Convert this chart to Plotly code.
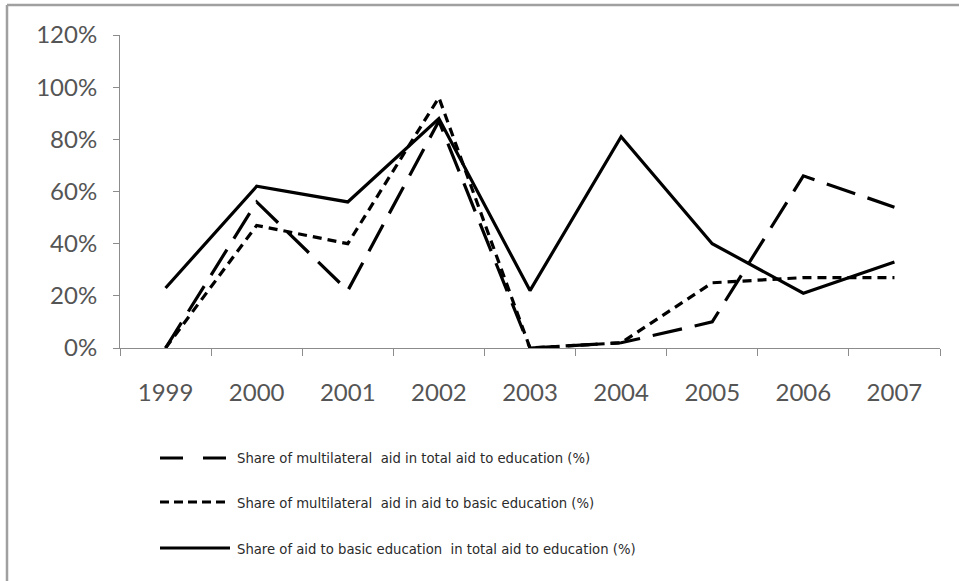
import plotly.graph_objects as go

years = ["1999", "2000", "2001", "2002", "2003", "2004", "2005", "2006", "2007"]
multi_total = [0.00, 0.56, 0.22, 0.87, 0.00, 0.02, 0.10, 0.66, 0.54]
multi_basic = [0.00, 0.47, 0.40, 0.96, 0.00, 0.02, 0.25, 0.27, 0.27]
basic_share = [0.23, 0.62, 0.56, 0.88, 0.22, 0.81, 0.40, 0.21, 0.33]
series_names = [
    "Share of multilateral  aid in total aid to education (%)",
    "Share of multilateral  aid in aid to basic education (%)",
    "Share of aid to basic education  in total aid to education (%)",
]
y_ticks = [0, 0.2, 0.4, 0.6, 0.8, 1.0, 1.2]

W, H = 959, 581
L, R, T, B = 120, 19, 35, 233
pw, ph = W - L - R, H - T - B

def px_x(x):
    return (x - L) / pw

def px_y(y):
    return (H - B - y) / ph

dashes = ["30px,13px", "9px,6px", "solid"]
legend_dashes = ["23px,20px", "9px,5px", "solid"]

fig = go.Figure()
for vals, name, d in zip([multi_total, multi_basic, basic_share], series_names, dashes):
    fig.add_trace(go.Scatter(x=years, y=vals, mode="lines", name=name,
                             line=dict(color="black", width=3.2, dash=d),
                             showlegend=False))

shapes = []
annotations = []
rows_y = [458, 502, 548]
for name, d, ry in zip(series_names, legend_dashes, rows_y):
    shapes.append(dict(type="line", xref="paper", yref="paper",
                       x0=px_x(160), x1=px_x(230), y0=px_y(ry), y1=px_y(ry),
                       line=dict(color="black", width=3.2, dash=d)))
    annotations.append(dict(xref="paper", yref="paper", x=px_x(235), y=px_y(ry),
                            xanchor="left", yanchor="middle", showarrow=False,
                            text=name,
                            font=dict(family="Liberation Sans Narrow, DejaVu Sans Condensed", size=14.7, color="#2a2a2a")))
# outer frame (left and top edges)
shapes.append(dict(type="line", xref="paper", yref="paper",
                   x0=px_x(7), x1=px_x(7), y0=px_y(5), y1=px_y(581),
                   line=dict(color="#a0a0a0", width=2.5)))
shapes.append(dict(type="line", xref="paper", yref="paper",
                   x0=px_x(7), x1=px_x(959), y0=px_y(5), y1=px_y(5),
                   line=dict(color="#a0a0a0", width=2.5)))

fig.update_layout(
    width=W, height=H,
    margin=dict(l=L, r=R, t=T, b=B, autoexpand=False),
    paper_bgcolor="white", plot_bgcolor="white",
    shapes=shapes, annotations=annotations,
    font=dict(family="Lato, Carlito, sans-serif", size=24, color="#555555"),
)
fig.update_xaxes(type="category", range=[-0.5, 8.5], automargin=False,
                 showline=True, linecolor="#8c8c8c", linewidth=1,
                 ticks="outside", tickson="boundaries", ticklen=7, tickcolor="#8c8c8c",
                 showgrid=False, zeroline=False, ticklabelstandoff=23)
fig.update_yaxes(range=[0, 1.2], tickvals=y_ticks, tickformat=".0%", automargin=False,
                 showline=True, linecolor="#8c8c8c", linewidth=1,
                 ticks="outside", ticklen=6, tickcolor="#8c8c8c",
                 showgrid=False, zeroline=False, ticklabelstandoff=11)

fig.write_html("out.html", config={"displayModeBar": False},
               post_script="document.body.style.margin='0';document.body.style.overflow='hidden';")
